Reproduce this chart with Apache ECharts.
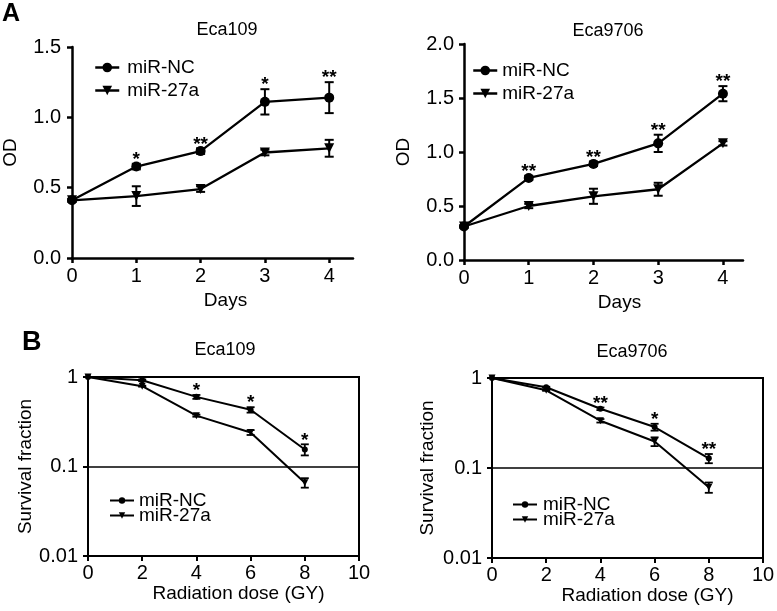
<!DOCTYPE html>
<html>
<head>
<meta charset="utf-8">
<script src="https://cdn.jsdelivr.net/npm/echarts@6/dist/echarts.min.js"></script>
<style>html,body{margin:0;padding:0;background:#fff}#c{width:777px;height:611px}</style>
</head>
<body>
<div id="c"></div>
<script>
// ---- Data ----
const days = [0, 1, 2, 3, 4];
const a1NC = [0.41, 0.65, 0.76, 1.11, 1.14];
const a1NCErr = [0.01, 0.02, 0.02, 0.09, 0.11];
const a1Mir = [0.41, 0.44, 0.49, 0.75, 0.78];
const a1MirErr = [0.01, 0.07, 0.02, 0.02, 0.06];
const a1Stars = ['', '*', '**', '*', '**'];

const a2NC = [0.31, 0.76, 0.89, 1.08, 1.54];
const a2NCErr = [0.01, 0.02, 0.02, 0.08, 0.07];
const a2Mir = [0.31, 0.50, 0.59, 0.655, 1.08];
const a2MirErr = [0.01, 0.02, 0.07, 0.06, 0.02];
const a2Stars = ['', '**', '**', '**', '**'];

const dose = [0, 2, 4, 6, 8];
const b1NC = [1, 0.92, 0.60, 0.43, 0.155];
const b1NCErr = [0, 0.02, 0.03, 0.03, 0.022];
const b1Mir = [1, 0.79, 0.37, 0.24, 0.066];
const b1MirErr = [0, 0.01, 0.01, 0.015, 0.008];
const b1Stars = ['', '', '*', '*', '*'];

const b2NC = [1, 0.79, 0.455, 0.285, 0.128];
const b2NCErr = [0, 0.01, 0.015, 0.025, 0.015];
const b2Mir = [1, 0.73, 0.335, 0.197, 0.061];
const b2MirErr = [0, 0.01, 0.015, 0.022, 0.008];
const b2Stars = ['', '', '**', '*', '**'];

const seriesNames = ['miR-NC', 'miR-27a'];
const titles = ['Eca109', 'Eca9706', 'Eca109', 'Eca9706'];

// ---- Helpers ----
const FONT = "'Liberation Sans', Arial, Helvetica, sans-serif";
const chart = echarts.init(document.getElementById('c'));

function pairs(xs, ys, es) { return xs.map((x, i) => [x, ys[i], es ? es[i] : 0]); }

function errSeries(gi, xs, ys, es, cap, lw) {
  return {
    type: 'custom', xAxisIndex: gi, yAxisIndex: gi, silent: true, z: 5,
    data: pairs(xs, ys, es),
    renderItem: function (params, api) {
      const x = api.value(0), y = api.value(1), e = api.value(2);
      if (!e) return null;
      const t = api.coord([x, y + e]);
      const b = api.coord([x, y - e]);
      const st = { stroke: '#000', lineWidth: lw };
      return { type: 'group', children: [
        { type: 'line', shape: { x1: t[0], y1: t[1], x2: b[0], y2: b[1] }, style: st },
        { type: 'line', shape: { x1: t[0] - cap, y1: t[1], x2: t[0] + cap, y2: t[1] }, style: st },
        { type: 'line', shape: { x1: b[0] - cap, y1: b[1], x2: b[0] + cap, y2: b[1] }, style: st }
      ]};
    }
  };
}

function starSeries(gi, xs, ys, es, stars, size, off) {
  return {
    type: 'custom', xAxisIndex: gi, yAxisIndex: gi, silent: true, z: 6,
    data: pairs(xs, ys, es),
    renderItem: function (params, api) {
      const s = stars[params.dataIndex];
      if (!s) return null;
      const p = api.coord([api.value(0), api.value(1) + api.value(2)]);
      return { type: 'text', x: p[0], y: p[1] - off,
        style: { text: s, align: 'center', verticalAlign: 'middle', fontSize: size, fontWeight: 'bold', fontFamily: FONT, fill: '#000' } };
    }
  };
}

function lineSeries(gi, name, xs, ys, sym, size, lw) {
  return {
    type: 'line', name: name, xAxisIndex: gi, yAxisIndex: gi,
    data: pairs(xs, ys).map(d => [d[0], d[1]]),
    symbol: sym === 'tri' ? 'triangle' : 'circle',
    symbolRotate: sym === 'tri' ? 180 : 0,
    symbolSize: size, showSymbol: true, animation: false,
    lineStyle: { color: '#000', width: lw },
    itemStyle: { color: '#000' }, z: 4
  };
}

const axisLine = (w) => ({ show: true, onZero: false, lineStyle: { color: '#000', width: w } });
const tickStyle = (w) => ({ show: true, length: 5, inside: false, lineStyle: { color: '#000', width: w } });
const lbl = { color: '#000', fontSize: 20, fontFamily: FONT };
const nameStyle = (pad) => ({ color: '#000', fontSize: 19, fontFamily: FONT, padding: pad || 0 });

const grids = [
  { left: 72, top: 47, width: 281, height: 211 },
  { left: 464, top: 44, width: 279, height: 216 },
  { left: 88, top: 377, width: 271, height: 179, show: true, borderColor: '#000', borderWidth: 2, backgroundColor: 'transparent' },
  { left: 492, top: 378, width: 271, height: 180, show: true, borderColor: '#000', borderWidth: 2, backgroundColor: 'transparent' }
].map(g => Object.assign({ containLabel: false, outerBoundsMode: 'none' }, g));

const xAxes = [
  { gridIndex: 0, type: 'value', min: 0, max: 4.37, interval: 1, axisLine: axisLine(2.5), axisTick: Object.assign(tickStyle(2.5), { customValues: days }),
    axisLabel: Object.assign({ margin: 8, customValues: days }, lbl), splitLine: { show: false },
    name: 'Days', nameLocation: 'middle', nameGap: 33, nameTextStyle: nameStyle([0, 0, 0, 26]) },
  { gridIndex: 1, type: 'value', min: 0, max: 4.31, interval: 1, axisLine: axisLine(2.5), axisTick: Object.assign(tickStyle(2.5), { customValues: days }),
    axisLabel: Object.assign({ margin: 8, customValues: days }, lbl), splitLine: { show: false },
    name: 'Days', nameLocation: 'middle', nameGap: 33, nameTextStyle: nameStyle([0, 0, 0, 32]) },
  { gridIndex: 2, type: 'value', min: 0, max: 10, interval: 2, axisLine: axisLine(2), axisTick: tickStyle(2),
    axisLabel: Object.assign({ margin: 7 }, lbl), splitLine: { show: false },
    name: 'Radiation dose (GY)', nameLocation: 'middle', nameGap: 28, nameTextStyle: nameStyle([0, 0, 0, 30]) },
  { gridIndex: 3, type: 'value', min: 0, max: 10, interval: 2, axisLine: axisLine(2), axisTick: tickStyle(2),
    axisLabel: Object.assign({ margin: 7 }, lbl), splitLine: { show: false },
    name: 'Radiation dose (GY)', nameLocation: 'middle', nameGap: 26, nameTextStyle: nameStyle([0, 0, 0, 40]) }
];

const logFmt = v => String(+(+v).toPrecision(3));
const yAxes = [
  { gridIndex: 0, type: 'value', min: 0, max: 1.5, interval: 0.5, axisLine: axisLine(2.5), axisTick: tickStyle(2.5),
    axisLabel: Object.assign({ margin: 11, formatter: v => v.toFixed(1) }, lbl), splitLine: { show: false },
    name: 'OD', nameLocation: 'middle', nameGap: 52, nameTextStyle: nameStyle() },
  { gridIndex: 1, type: 'value', min: 0, max: 2, interval: 0.5, axisLine: axisLine(2.5), axisTick: tickStyle(2.5),
    axisLabel: Object.assign({ margin: 10, formatter: v => v.toFixed(1) }, lbl), splitLine: { show: false },
    name: 'OD', nameLocation: 'middle', nameGap: 51, nameTextStyle: nameStyle() },
  { gridIndex: 2, type: 'log', logBase: 10, min: 0.01, max: 1, axisLine: axisLine(2), axisTick: tickStyle(2),
    axisLabel: Object.assign({ margin: 10, formatter: logFmt }, lbl), splitLine: { show: true, lineStyle: { color: '#000', width: 1.5 } },
    minorTick: { show: false },
    name: 'Survival fraction', nameLocation: 'middle', nameGap: 50, nameTextStyle: nameStyle() },
  { gridIndex: 3, type: 'log', logBase: 10, min: 0.01, max: 1, axisLine: axisLine(2), axisTick: tickStyle(2),
    axisLabel: Object.assign({ margin: 10, formatter: logFmt }, lbl), splitLine: { show: true, lineStyle: { color: '#000', width: 1.5 } },
    minorTick: { show: false },
    name: 'Survival fraction', nameLocation: 'middle', nameGap: 55, nameTextStyle: nameStyle() }
];

const series = [
  lineSeries(0, seriesNames[0], days, a1NC, 'circ', 10, 2.3),
  lineSeries(0, seriesNames[1], days, a1Mir, 'tri', 10, 2.3),
  errSeries(0, days, a1NC, a1NCErr, 4.5, 2), errSeries(0, days, a1Mir, a1MirErr, 4.5, 2),
  starSeries(0, days, a1NC, a1NCErr, a1Stars, 19, 4),

  lineSeries(1, seriesNames[0], days, a2NC, 'circ', 10, 2.3),
  lineSeries(1, seriesNames[1], days, a2Mir, 'tri', 10, 2.3),
  errSeries(1, days, a2NC, a2NCErr, 4.5, 2), errSeries(1, days, a2Mir, a2MirErr, 4.5, 2),
  starSeries(1, days, a2NC, a2NCErr, a2Stars, 19, 4),

  lineSeries(2, seriesNames[0], dose, b1NC, 'circ', 6, 2),
  lineSeries(2, seriesNames[1], dose, b1Mir, 'tri', 7, 2),
  errSeries(2, dose, b1NC, b1NCErr, 4, 1.8), errSeries(2, dose, b1Mir, b1MirErr, 4, 1.8),
  starSeries(2, dose, b1NC, b1NCErr, b1Stars, 19, 4),

  lineSeries(3, seriesNames[0], dose, b2NC, 'circ', 6, 2),
  lineSeries(3, seriesNames[1], dose, b2Mir, 'tri', 7, 2),
  errSeries(3, dose, b2NC, b2NCErr, 4, 1.8), errSeries(3, dose, b2Mir, b2MirErr, 4, 1.8),
  starSeries(3, dose, b2NC, b2NCErr, b2Stars, 19, 4)
];

const legendBase = { orient: 'vertical', padding: 0, itemWidth: 24, data: seriesNames, selectedMode: false,
  textStyle: { color: '#000', fontSize: 19, fontFamily: FONT } };
const legends = [
  Object.assign({}, legendBase, { left: 94, top: 58, itemHeight: 12, itemGap: 4, lineStyle: { width: 2.5 }, textStyle: Object.assign({}, legendBase.textStyle, { padding: [0, 0, 0, 3] }) }),
  Object.assign({}, legendBase, { left: 472, top: 61, itemHeight: 12, itemGap: 4, lineStyle: { width: 2.5 } }),
  Object.assign({}, legendBase, { left: 109, top: 491, itemHeight: 8, itemGap: -4, lineStyle: { width: 2 } }),
  Object.assign({}, legendBase, { left: 512, top: 495, itemHeight: 8, itemGap: -4, lineStyle: { width: 2 }, textStyle: Object.assign({}, legendBase.textStyle, { padding: [0, 0, 0, 1] }) })
];

const titlePos = [[227, 30], [608, 31], [225, 350], [632, 352]];
const graphics = titles.map((t, i) => ({
  type: 'text', x: titlePos[i][0], y: titlePos[i][1],
  style: { text: t, align: 'center', verticalAlign: 'middle', fontSize: 18, fontFamily: FONT, fill: '#000' }
}));
graphics.push({ type: 'text', x: 2, y: 14, style: { text: 'A', align: 'left', verticalAlign: 'middle', fontSize: 25, fontWeight: 'bold', fontFamily: FONT, fill: '#000' } });
graphics.push({ type: 'text', x: 22, y: 343, style: { text: 'B', align: 'left', verticalAlign: 'middle', fontSize: 27, fontWeight: 'bold', fontFamily: FONT, fill: '#000' } });

chart.setOption({
  animation: false,
  backgroundColor: '#fff',
  grid: grids,
  xAxis: xAxes,
  yAxis: yAxes,
  legend: legends,
  series: series,
  graphic: graphics
});
</script>
</body>
</html>
